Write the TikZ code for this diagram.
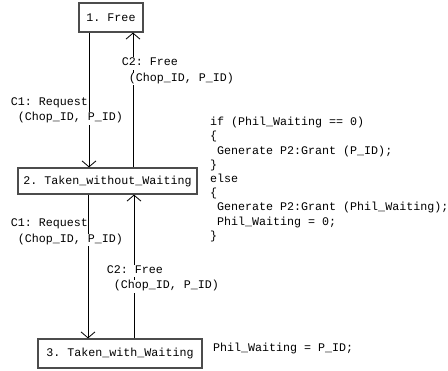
\documentclass[tikz,border=0pt]{standalone}
\usepackage{fontspec}
\setmonofont{Liberation Mono}
\usetikzlibrary{arrows.meta}
\tikzset{
  statebox/.style={draw=black!70, line width=1.2pt, inner sep=0pt, font=\codefont},
  trans/.style={line width=0.8pt, -{Straight Barb[length=6pt,width=14pt]}},
  lbl/.style={fill=white, inner sep=0.6pt, anchor=west, font=\codefont,
              text height=8pt, text depth=3pt},
  code/.style={inner sep=0pt, anchor=west, align=left, font=\codefont}
}
\newcommand{\codefont}{\ttfamily\fontsize{11.67pt}{14.2pt}\selectfont}
\newcommand{\ind}{\hphantom{x}}
\begin{document}
\begin{tikzpicture}[x=1pt, y=-1pt]
\useasboundingbox (0,0) rectangle (448,371);

% states
\node[statebox, minimum width=64pt, minimum height=29pt] (free) at (111,17.5) {1. Free};
\node[statebox, minimum width=179pt, minimum height=26pt] (tnw) at (107.5,181) {2. Taken\_without\_Waiting};
\node[statebox, minimum width=164pt, minimum height=29pt] (tw) at (120,353.5) {3. Taken\_with\_Waiting};

% connector columns
\coordinate (c1a) at (89,0);
\coordinate (c2a) at (133,0);
\coordinate (c1b) at (88,0);
\coordinate (c2b) at (134,0);

% transitions
\draw[trans] (free.south -| c1a) -- (tnw.north -| c1a);
\draw[trans] (tnw.north -| c2a) -- (free.south -| c2a);
\draw[trans] (tnw.south -| c1b) -- (tw.north -| c1b);
\draw[trans] (tw.north -| c2b) -- (tnw.south -| c2b);

% transition labels
\node[lbl] (r1a) at (10,103) {C1: Request};
\node[lbl] (r1b) at (17,118.5) {(Chop\_ID, P\_ID)};
\node[lbl] (f1a) at (121,63.5) {C2: Free};
\node[lbl] (f1b) at (128,79) {(Chop\_ID, P\_ID)};
\node[lbl] (r2a) at (10,224.5) {C1: Request};
\node[lbl] (r2b) at (17,240) {(Chop\_ID, P\_ID)};
\node[lbl] (f2a) at (106,271) {C2: Free};
\node[lbl] (f2b) at (113,286.5) {(Chop\_ID, P\_ID)};

% actions
\node[code, anchor=north west] (act1) at (210,117) {if (Phil\_Waiting == 0)\\
\{\\
\ind Generate P2:Grant (P\_ID);\\
\}\\
else\\
\{\\
\ind Generate P2:Grant (Phil\_Waiting);\\
\ind Phil\_Waiting = 0;\\
\}};
\node[code] (act2) at (213,348.5) {Phil\_Waiting = P\_ID;};
\end{tikzpicture}
\end{document}
